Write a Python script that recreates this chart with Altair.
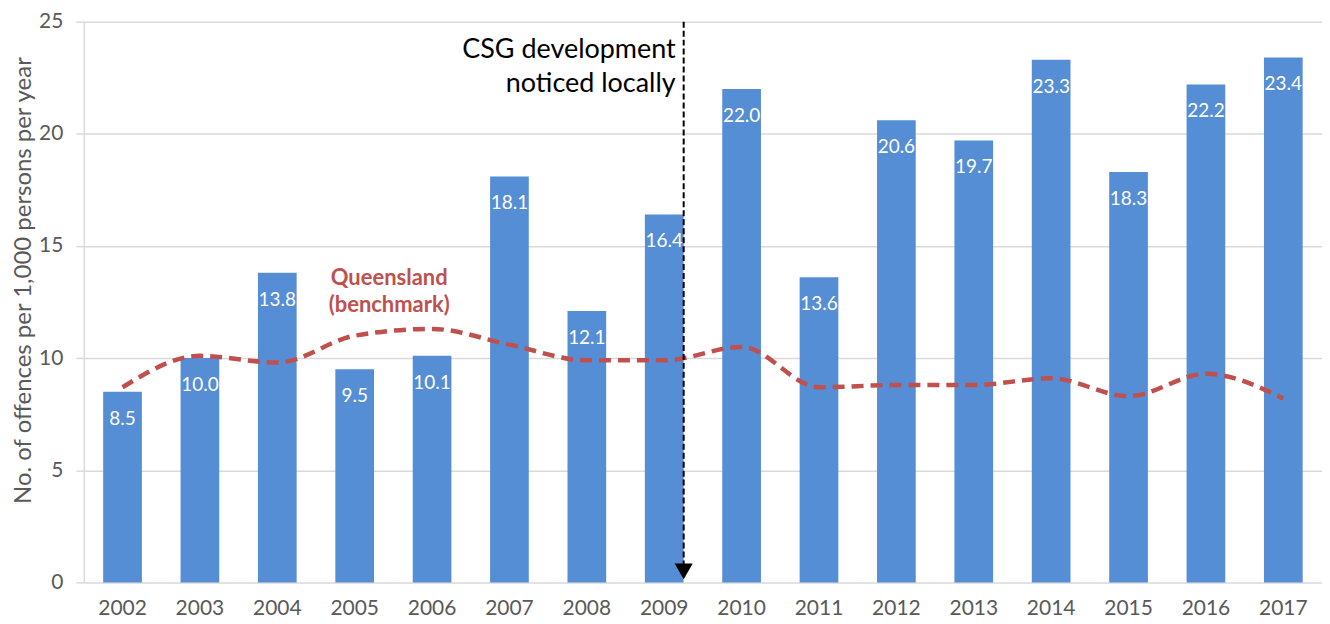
import altair as alt
import pandas as pd

years = [str(y) for y in range(2002, 2018)]
local_rate = [8.5, 10.0, 13.8, 9.5, 10.1, 18.1, 12.1, 16.4, 22.0, 13.6, 20.6, 19.7, 23.3, 18.3, 22.2, 23.4]
qld_rate = [8.7, 10.1, 9.8, 11.0, 11.3, 10.6, 9.9, 9.9, 10.5, 8.7, 8.8, 8.8, 9.1, 8.3, 9.3, 8.2]

csg_year = "2009"
csg_lines = ["CSG development", "noticed locally"]
csg_y = [23.75, 22.2]
qld_label_year = "2005"
qld_lines = ["Queensland", "(benchmark)"]
qld_label_y = [13.57, 12.37]

FONT = "Lato"
BLUE = "#558ED5"
RED = "#C0504D"
GREY = "#595959"
GRID = "#D9D9D9"

df = pd.DataFrame({"year": years, "local": local_rate, "qld": qld_rate})
df["label"] = [f"{v:.1f}" for v in local_rate]

xscale = alt.Scale(domain=years, paddingInner=0.5, paddingOuter=0.25)
x = alt.X("year:N", scale=xscale, title=None,
          axis=alt.Axis(labelAngle=0, ticks=False, domain=False, labelPadding=15,
                        labelFont=FONT, labelFontSize=21, labelColor=GREY))
yscale = alt.Scale(domain=[0, 25], nice=False)
y = alt.Y("local:Q", scale=yscale,
          title="No. of offences per 1,000 persons per year",
          axis=alt.Axis(values=[0, 5, 10, 15, 20, 25], grid=True, gridColor=GRID, gridWidth=1.5,
                        domain=True, domainColor=GRID, domainWidth=1.5,
                        ticks=True, tickColor=GRID, tickSize=8, tickWidth=1.5,
                        labelPadding=13, labelFont=FONT, labelFontSize=21, labelColor=GREY,
                        titleFont=FONT, titleFontSize=24, titleColor=GREY, titleFontWeight="normal",
                        titlePadding=3, titleY=259))

base = alt.Chart(df)
bars = base.mark_bar(color=BLUE).encode(x=x, y=y)
bar_labels = base.mark_text(color="white", font=FONT, fontSize=19, baseline="middle",
                            yOffset=27).encode(x=x, y=alt.Y("local:Q", scale=yscale), text="label:N")
line = base.mark_line(color=RED, strokeWidth=4.5, strokeDash=[12, 7],
                      interpolate="monotone").encode(x=x, y=alt.Y("qld:Q", scale=yscale))

rule_df = pd.DataFrame({"year": [csg_year], "top": [25.0], "bottom": [0.6], "zero": [0.0]})
rule = alt.Chart(rule_df).mark_rule(color="black", strokeWidth=2, strokeDash=[6, 3],
                                    xOffset=19.5).encode(
    x=alt.X("year:N", scale=xscale),
    y=alt.Y("top:Q", scale=yscale), y2="bottom:Q")
arrow = alt.Chart(rule_df).mark_point(shape="triangle-down", filled=True, color="black",
                                      size=330, opacity=1, xOffset=19.5, yOffset=-11).encode(
    x=alt.X("year:N", scale=xscale), y=alt.Y("zero:Q", scale=yscale))

csg_df = pd.DataFrame({"year": [csg_year] * 2, "yy": csg_y, "t": csg_lines})
csg_text = alt.Chart(csg_df).mark_text(align="right", baseline="middle", font=FONT, fontSize=27,
                                       color="black", xOffset=11.5).encode(
    x=alt.X("year:N", scale=xscale), y=alt.Y("yy:Q", scale=yscale), text="t:N")

qld_df = pd.DataFrame({"year": [qld_label_year] * 2, "yy": qld_label_y, "t": qld_lines})
qld_text = alt.Chart(qld_df).mark_text(align="center", baseline="middle", font=FONT, fontSize=22,
                                       fontWeight="bold", color=RED, xOffset=34.6).encode(
    x=alt.X("year:N", scale=xscale), y=alt.Y("yy:Q", scale=yscale), text="t:N")

chart = alt.layer(bars, bar_labels, line, rule, arrow, csg_text, qld_text).properties(
    width=1241, height=562,
    padding={"left": 3, "top": 2, "right": 0, "bottom": 0},
).configure_view(stroke=None)

chart.save("out.html", embed_options={"renderer": "svg", "actions": False})
